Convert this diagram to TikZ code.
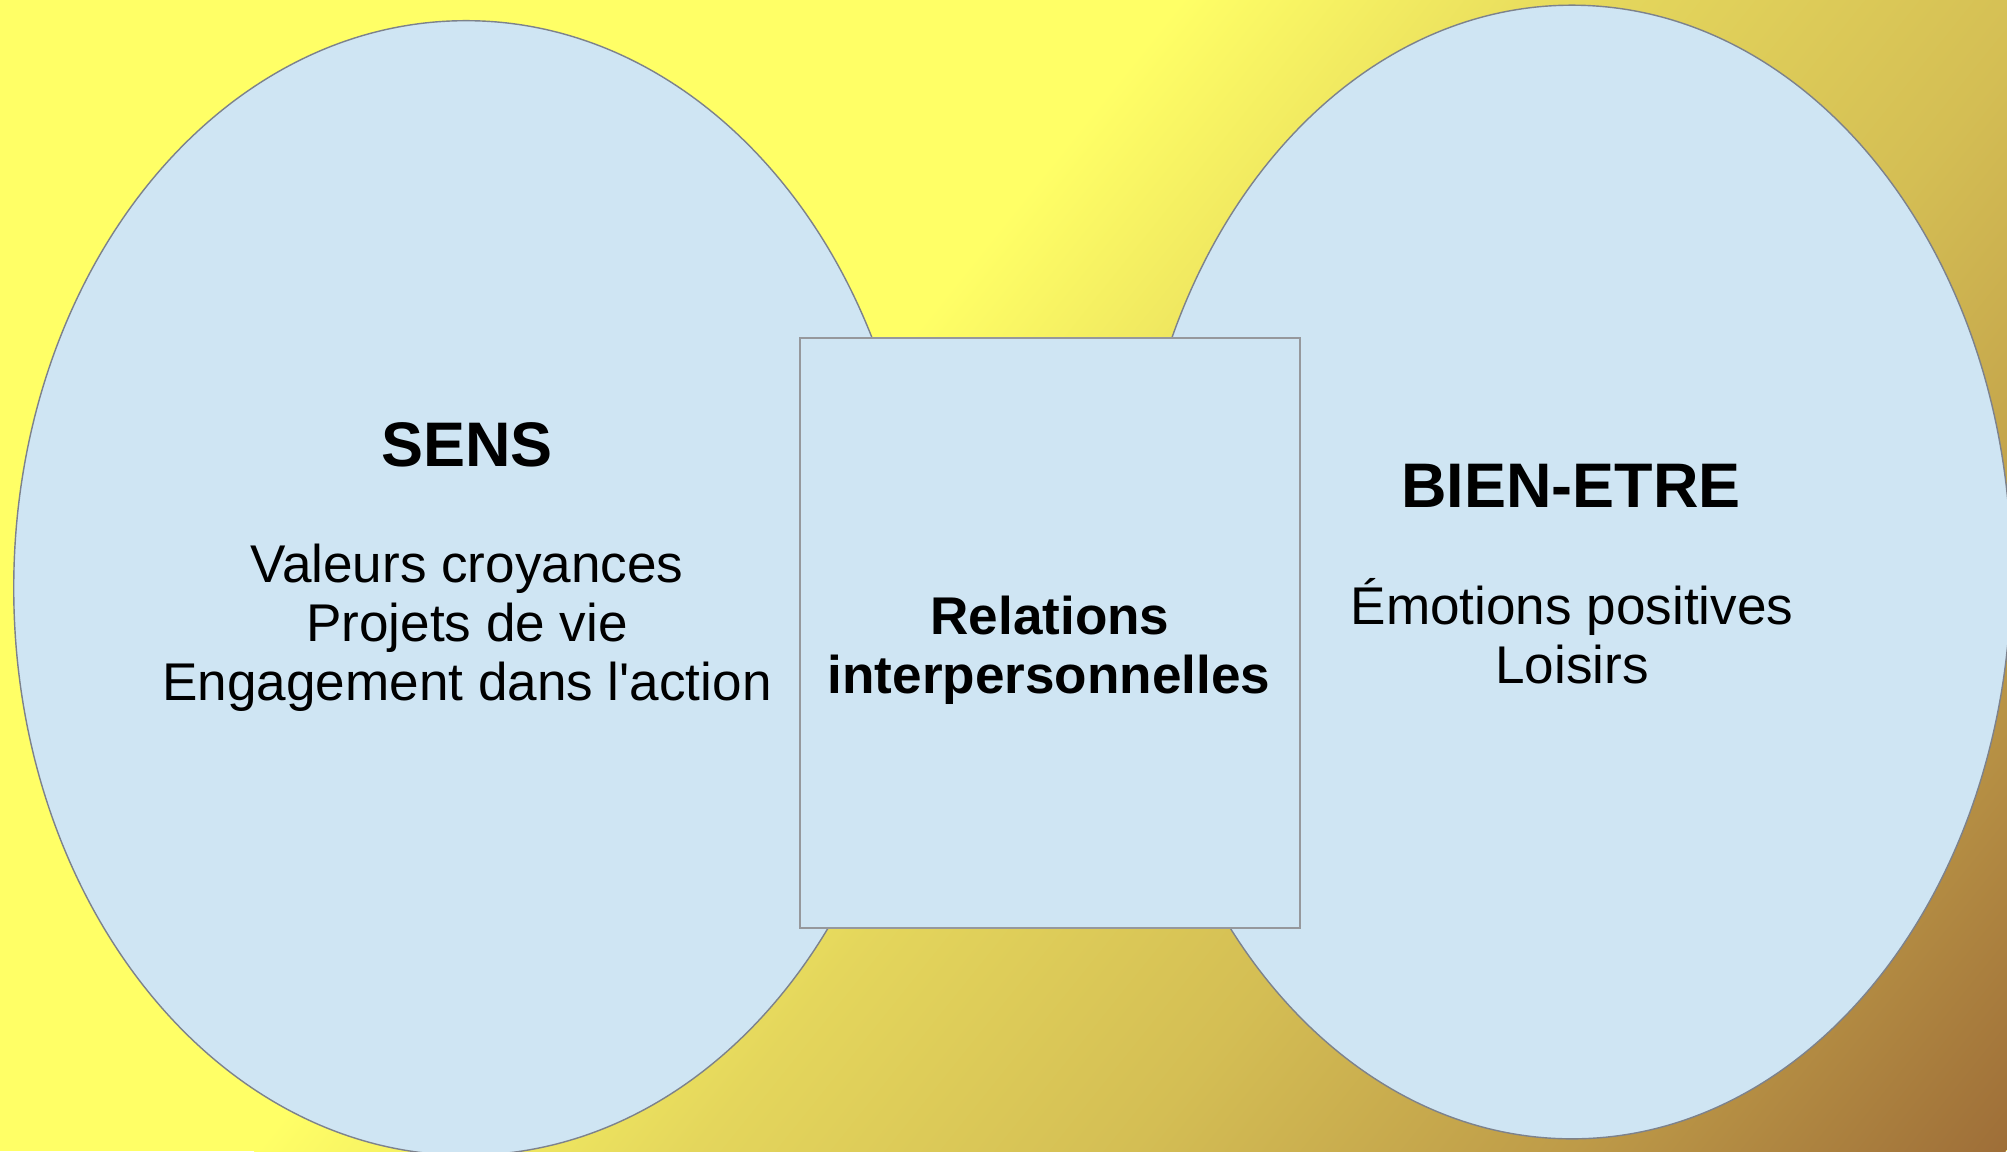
\documentclass[tikz,border=0pt]{standalone}
\usepackage{fontspec}
\setmainfont{Liberation Sans}
\usepackage{tikz}
\usetikzlibrary{shapes.geometric}

\definecolor{bgyellow}{RGB}{255,255,102}
\definecolor{bgpale}{RGB}{228,214,92}
\definecolor{bggold}{RGB}{212,190,84}
\definecolor{bgochre}{RGB}{190,155,72}
\definecolor{bgbrown}{RGB}{158,110,56}
\definecolor{bubblefill}{RGB}{207,229,243}
\definecolor{bubbleline}{RGB}{125,130,140}
\definecolor{hubline}{RGB}{150,152,156}

% the useful part of a shading runs from 25bp to 75bp
\pgfdeclarehorizontalshading{goldfade}{100bp}{color(0bp)=(bgyellow); color(25bp)=(bgyellow); color(37.5bp)=(bgpale); color(50bp)=(bggold); color(62.5bp)=(bgochre); color(75bp)=(bgbrown); color(100bp)=(bgbrown)}

\tikzset{bubble/.style={ellipse,draw=bubbleline,fill=bubblefill,line width=0.4pt,inner sep=0pt,outer sep=0pt}}
\tikzset{hub/.style={rectangle,draw=hubline,fill=bubblefill,line width=0.4pt,inner sep=0pt,outer sep=0pt}}
\tikzset{headtext/.style={anchor=base,font=\fontsize{17.9}{20}\selectfont\bfseries}}
\tikzset{boldtext/.style={anchor=base,font=\fontsize{15.1}{17}\selectfont\bfseries}}
\tikzset{itemtext/.style={anchor=base,font=\fontsize{15.1}{17}\selectfont}}

\begin{document}
\begin{tikzpicture}[x=0.01cm,y=-0.01cm]

\useasboundingbox (0,0) rectangle (2007,1151);
\clip (0,0) rectangle (2007,1151);

% background: yellow fading to brown towards the lower right
\fill[bgyellow] (0,0) rectangle (2007,1151);
\shade[shading=goldfade,transform canvas={shift={(1180,0)},rotate=-38.8}] (0,-1800) rectangle (1365,1800);

\node[bubble,minimum width=9.04cm,minimum height=11.34cm] (sens) at (466,588) {};
\node[bubble,minimum width=8.78cm,minimum height=11.33cm] (bien) at (1572,572) {};
\node[hub,minimum width=5cm,minimum height=5.9cm] (rel) at (1050,633) {};

% left
\node[headtext] (sensT) at (467,466) {SENS};
\node[itemtext] (valeurs) at (467,582) {Valeurs croyances};
\node[itemtext] (projets) at (467,641) {Projets de vie};
\node[itemtext] (engage) at (467,700) {Engagement dans l\textquotesingle action};

% right
\node[headtext] (bienT) at (1571,507) {BIEN-ETRE};
\node[itemtext] (emotions) at (1572,624) {Émotions positives};
\node[itemtext] (loisirs) at (1572,683) {Loisirs};

% middle
\node[boldtext] (relA) at (1050,634) {Relations};
\node[boldtext] (relB) at (1049,693) {interpersonnelles};

\end{tikzpicture}
\end{document}
